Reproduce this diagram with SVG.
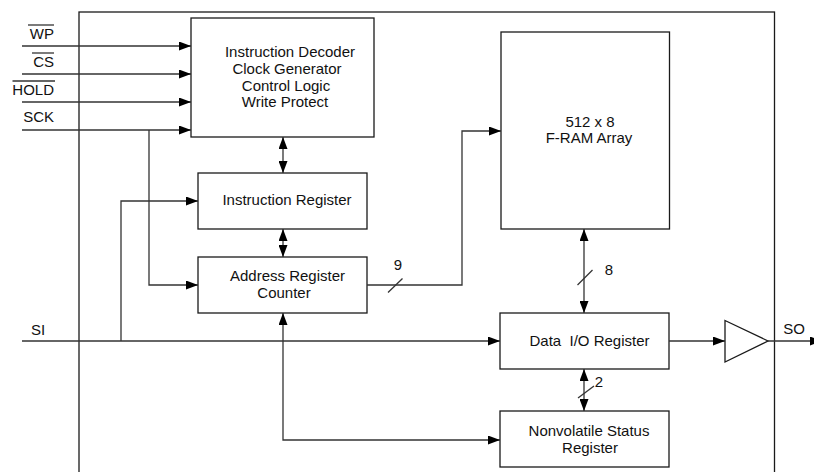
<svg xmlns="http://www.w3.org/2000/svg" width="814" height="472" viewBox="0 0 814 472">
<style>
.box{fill:#fff;stroke:#1a1a1a;stroke-width:1.3}
.ln{fill:none;stroke:#333;stroke-width:1.3}
.t{font-family:"Liberation Sans",Arial,sans-serif;font-size:15px;fill:#111}
.c{text-anchor:middle}
.e{text-anchor:end}
</style>
<defs>
<marker id="ah" markerUnits="userSpaceOnUse" markerWidth="12" markerHeight="9" refX="12" refY="4.5" orient="auto-start-reverse">
<path d="M0,0 L12,4.5 L0,9 Z" fill="#000"/>
</marker>
</defs>
<rect width="814" height="472" fill="#fff"/>
<g id="chip"><rect x="79" y="12" width="695.5" height="470" class="box" fill="none" style="fill:none"/></g>
<g id="decoder">
<rect x="191" y="18" width="183" height="119" class="box"/>
<text class="t c" x="290" y="57">Instruction Decoder</text>
<text class="t c" x="287" y="74">Clock Generator</text>
<text class="t c" x="286" y="91">Control Logic</text>
<text class="t c" x="285" y="107">Write Protect</text>
</g>
<g id="ir">
<rect x="198" y="173" width="169" height="56" class="box"/>
<text class="t c" x="287" y="205">Instruction Register</text>
</g>
<g id="arc">
<rect x="198" y="257" width="169" height="56" class="box"/>
<text class="t c" x="287.5" y="281">Address Register</text>
<text class="t c" x="284" y="298">Counter</text>
</g>
<g id="fram">
<rect x="501" y="32" width="168.5" height="197" class="box"/>
<text class="t c" x="590" y="127">512 x 8</text>
<text class="t c" x="589" y="143">F-RAM Array</text>
</g>
<g id="dio">
<rect x="500" y="313" width="169" height="56" class="box"/>
<text class="t c" x="589.5" y="346" xml:space="preserve">Data  I/O Register</text>
</g>
<g id="nvsr">
<rect x="500" y="411" width="169" height="56" class="box"/>
<text class="t c" x="589" y="436">Nonvolatile Status</text>
<text class="t c" x="590" y="453">Register</text>
</g>
<g id="buffer">
<path d="M725,320.5 L768,341 L725,362 Z" class="box"/>
</g>
<g id="pins">
<text class="t e" x="54" y="39">WP</text>
<line x1="28" y1="25" x2="54" y2="25" class="ln"/>
<text class="t e" x="54" y="66.5">CS</text>
<line x1="32" y1="53" x2="54" y2="53" class="ln"/>
<text class="t e" x="54" y="95">HOLD</text>
<line x1="12.5" y1="81" x2="55" y2="81" class="ln"/>
<text class="t e" x="54" y="122">SCK</text>
<text class="t" x="31" y="334.5">SI</text>
<text class="t c" x="794" y="334">SO</text>
</g>
<g id="connectors">
<line x1="22" y1="46" x2="191" y2="46" class="ln" marker-end="url(#ah)"/>
<line x1="22" y1="74" x2="191" y2="74" class="ln" marker-end="url(#ah)"/>
<line x1="22" y1="102" x2="191" y2="102" class="ln" marker-end="url(#ah)"/>
<line x1="22" y1="130" x2="191" y2="130" class="ln" marker-end="url(#ah)"/>
<polyline points="149,130 149,285 198,285" class="ln" marker-end="url(#ah)"/>
<line x1="283" y1="137" x2="283" y2="173" class="ln" marker-start="url(#ah)" marker-end="url(#ah)"/>
<line x1="283" y1="229" x2="283" y2="257" class="ln" marker-start="url(#ah)" marker-end="url(#ah)"/>
<line x1="22" y1="341" x2="500" y2="341" class="ln" marker-end="url(#ah)"/>
<polyline points="121,341 121,201 198,201" class="ln" marker-end="url(#ah)"/>
<polyline points="367,285 462,285 462,131 501,131" class="ln" marker-end="url(#ah)"/>
<line x1="388" y1="292.5" x2="402.5" y2="278.5" class="ln"/>
<text class="t c" x="398" y="270">9</text>
<line x1="584" y1="229" x2="584" y2="313" class="ln" marker-start="url(#ah)" marker-end="url(#ah)"/>
<line x1="577.5" y1="285" x2="592.5" y2="270" class="ln"/>
<text class="t c" x="609" y="275">8</text>
<line x1="584" y1="369" x2="584" y2="411" class="ln" marker-start="url(#ah)" marker-end="url(#ah)"/>
<line x1="578" y1="398" x2="594" y2="386" class="ln"/>
<text class="t c" x="599" y="387">2</text>
<polyline points="283,313 283,440 500,440" class="ln" marker-start="url(#ah)" marker-end="url(#ah)"/>
<line x1="669" y1="341" x2="725" y2="341" class="ln" marker-end="url(#ah)"/>
<line x1="768" y1="341" x2="822" y2="341" class="ln" marker-end="url(#ah)"/>
</g>
</svg>
